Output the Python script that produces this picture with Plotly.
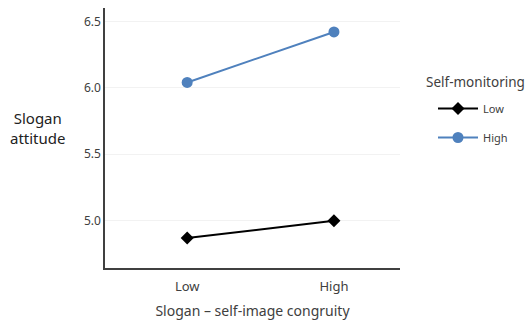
import plotly.graph_objects as go

categories = ["Low", "High"]
low_monitoring = [4.87, 5.0]
high_monitoring = [6.04, 6.42]
y_ticks = [5.0, 5.5, 6.0, 6.5]
y_tick_labels = ["5.0", "5.5", "6.0", "6.5"]

FONT = "Noto Sans"
L, R, T, B = 105, 127, 8, 54
W, H = 527, 322
PW, PH = W - L - R, H - T - B


def px_x(px):
    return (px - L) / PW


def px_y(py):
    return (H - B - py) / PH


fig = go.Figure()
fig.add_trace(go.Scatter(
    x=categories, y=low_monitoring, name="Low", mode="lines+markers",
    line=dict(color="#000000", width=2),
    marker=dict(symbol="diamond", size=10, color="#000000"),
    legendgroup="a",
))
fig.add_trace(go.Scatter(
    x=categories, y=high_monitoring, name="High", mode="lines+markers",
    line=dict(color="#4F81BD", width=2),
    marker=dict(symbol="circle", size=11, color="#4F81BD"),
    legendgroup="b",
))

fig.update_layout(
    width=W, height=H,
    margin=dict(l=L, r=R, t=T, b=B, autoexpand=False),
    paper_bgcolor="white", plot_bgcolor="white",
    font=dict(family=FONT, color="#404040", size=12),
    showlegend=True,
    legend=dict(
        x=px_x(433), y=px_y(94), xanchor="left", yanchor="top",
        font=dict(size=11, color="#404040"),
        tracegroupgap=10,
        itemwidth=40,
    ),
    xaxis=dict(
        type="category", range=[-0.56, 1.45],
        showline=True, linecolor="#404040", linewidth=1.5,
        showgrid=False, ticks="outside", ticklen=6, tickcolor="rgba(0,0,0,0)",
        zeroline=False, automargin=False,
        tickfont=dict(size=13, color="#404040"),
        title=dict(text="Slogan – self-image congruity", font=dict(size=14, color="#404040"), standoff=12),
    ),
    yaxis=dict(
        range=[4.645, 6.6],
        tickvals=y_ticks, ticktext=y_tick_labels,
        showline=True, linecolor="#404040", linewidth=1.5,
        showgrid=True, gridcolor="#f2f2f2", gridwidth=1,
        ticks="", zeroline=False, automargin=False,
        tickfont=dict(size=12, color="#404040"),
    ),
    annotations=[
        dict(
            text="Slogan<br>attitude", x=px_x(38), xref="paper", y=px_y(128), yref="paper",
            xanchor="center", yanchor="middle",
            showarrow=False, font=dict(size=15, color="#222222"),
        ),
        dict(
            text="Self-monitoring", x=px_x(424), xref="paper", y=px_y(82), yref="paper",
            xanchor="left", yanchor="middle",
            showarrow=False, font=dict(size=13.5, color="#404040"),
        ),
    ],
)

fig.write_html("out.html", config={"displayModeBar": False},
               post_script="document.body.style.margin='0';")
